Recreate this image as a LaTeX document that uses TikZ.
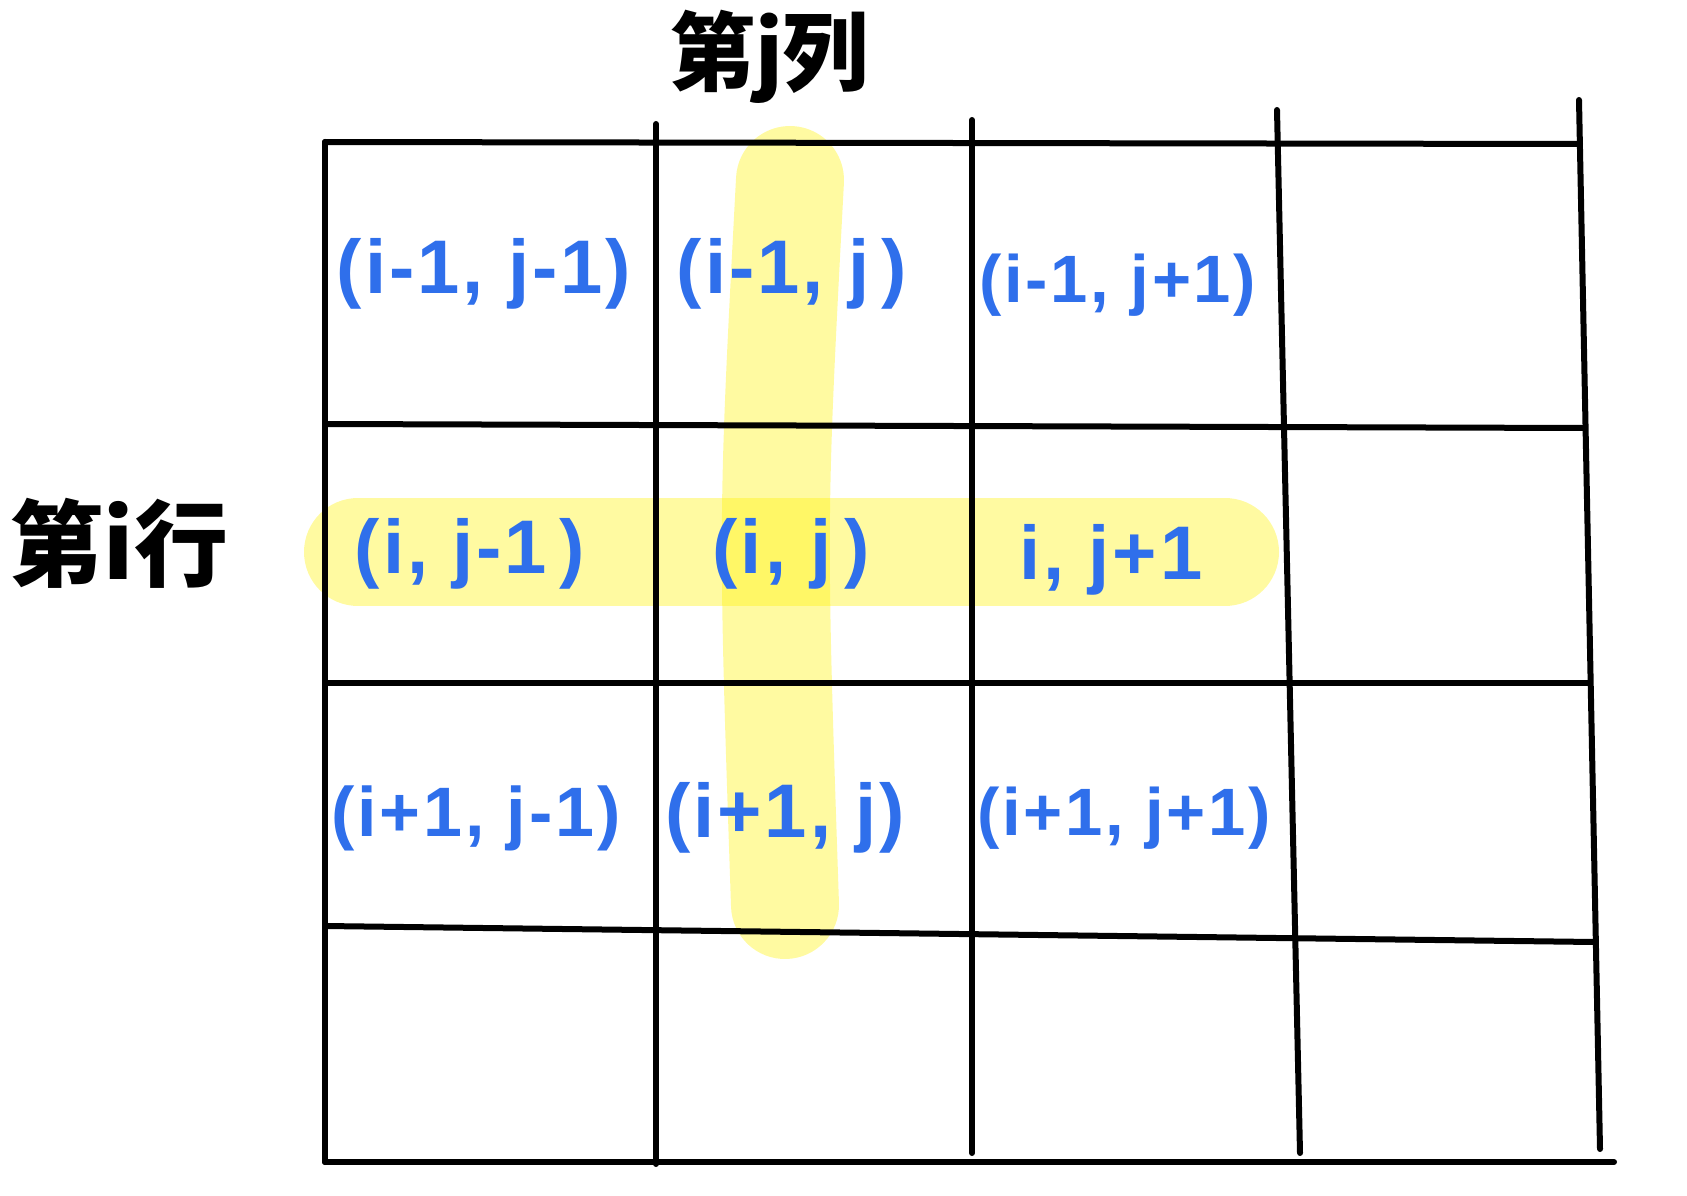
\documentclass[tikz,border=0pt]{standalone}
\usepackage{fontspec}
\setmainfont{Liberation Sans}[LetterSpace=4]
\newfontfamily\cjk{Noto Sans CJK SC}
\definecolor{inkblue}{RGB}{47,111,235}
\begin{document}
\begin{tikzpicture}[x=1pt,y=-1pt]
	\tikzstyle{grid line}=[line width=6pt,line cap=round]
	\tikzstyle{marker}=[yellow,opacity=0.37,line width=108pt,line cap=round]
	\tikzstyle{cell}=[text=inkblue,font=\bfseries\fontsize{76}{80}\selectfont]
	\tikzstyle{small cell}=[cell,font=\bfseries\fontsize{67}{70}\selectfont]
	\tikzstyle{heading}=[font=\cjk\bfseries\fontsize{86}{90}\selectfont]
	\useasboundingbox (0,0) rectangle (1687,1196);
	% highlighter strokes
	\draw[marker] (358,552) -- (1225,552);
	\draw[marker] (790,180) .. controls (772,520) .. (785,905);
	% grid, drawn by hand so slightly skewed
	\foreach \xa/\ya/\xb/\yb in {325/142/325/1162, 656/124/656/1164, 972/120/972/1153,
		1277/110/1300/1153, 1579/100/1600/1149,
		325/142/1580/144, 325/424/1584/428, 325/683/1589/683,
		325/926/1594/942, 325/1162/1614/1162}
		\draw[grid line] (\xa,\ya) -- (\xb,\yb);
	% headings
	\node(col)[heading] at (769,57) {第j列};
	\node(row)[heading,font=\cjk\bfseries\fontsize{94}{98}\selectfont] at (119,543) {第i行};
	% cell labels
	\node(a11)[cell] at (484,274) {(i-1, j-1)};
	\node(a12)[cell] at (792,274) {(i-1, j\,)};
	\node(a13)[small cell] at (1118,285) {(i-1, j+1)};
	\node(a21)[cell] at (470,554) {(i, j-1\,)};
	\node(a22)[cell] at (791,554) {(i, j\,)};
	\node(a23)[cell] at (1111,560) {i, j+1};
	\node(a31)[cell,font=\bfseries\fontsize{70}{74}\selectfont] at (476,818) {(i+1, j-1)};
	\node(a32)[cell] at (785,818) {(i+1, j)};
	\node(a33)[small cell] at (1124,818) {(i+1, j+1)};
\end{tikzpicture}
\end{document}
